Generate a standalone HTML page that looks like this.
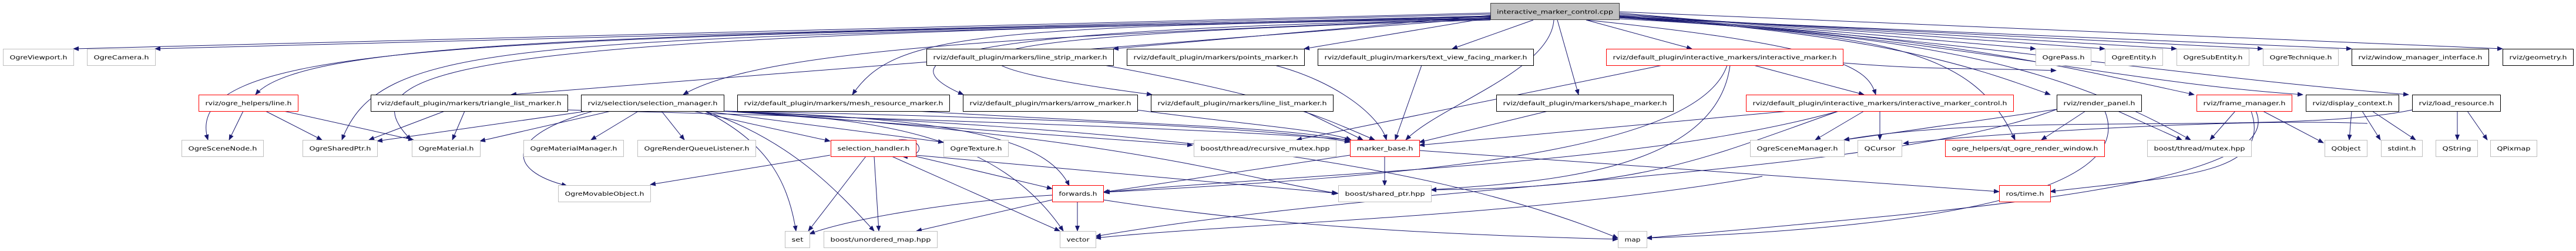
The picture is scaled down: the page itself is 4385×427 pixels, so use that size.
<!DOCTYPE html>
<html><head><meta charset="utf-8"><style>
html,body{margin:0;padding:0;background:#fff;}
svg{display:block;}
text{font-family:"DejaVu Sans","Liberation Sans",sans-serif;font-size:10px;fill:#000;}
.e{fill:none;stroke:#191970;stroke-width:1;marker-end:url(#a);}
.g{fill:#fff;stroke:#bfbfbf;}
.b{fill:#fff;stroke:#000;}
.r{fill:#fff;stroke:#ff0000;}
</style></head><body>
<svg width="4385" height="427" viewBox="0 0 4385 427" xmlns="http://www.w3.org/2000/svg">
<defs><marker id="a" markerWidth="10" markerHeight="8" refX="9" refY="4" orient="auto" markerUnits="userSpaceOnUse"><path d="M0,0 L10,4 L0,8 z" fill="#191970"/></marker></defs>
<g>
<!-- from top node to row1 -->
<path class="e" d="M2537 22 L125 83"/>
<path class="e" d="M2537 24 L264 83"/>
<path class="e" d="M2537 26 L1895 83"/>
<path class="e" d="M2537 30 L2220 83"/>
<path class="e" d="M2610 34 L2472 83"/>
<path class="e" d="M2700 34 L2880 83"/>
<path class="e" d="M2756 22 L3465 83"/>
<path class="e" d="M2756 24 L3583 83"/>
<path class="e" d="M2756 26 L3705 83"/>
<path class="e" d="M2756 28 L3852 83"/>
<path class="e" d="M2756 30 L4003 83"/>
<path class="e" d="M2756 20 L4260 83"/>
<!-- to row2 -->
<path class="e" d="M2537 28 C1200 60 520 60 435 161"/>
<path class="e" d="M2537 30 L870 161"/>
<path class="e" d="M2537 31 C1800 60 1300 80 1163 161"/>
<path class="e" d="M2537 32 C1650 45 1520 60 1451 161"/>
<path class="e" d="M2537 33 C1600 50 1500 100 1640 161"/>
<path class="e" d="M2537 34 C1600 60 1500 100 1961 161"/>
<path class="e" d="M2651 34 L2687 161"/>
<path class="e" d="M2700 34 C3150 80 3180 120 3193 161"/>
<path class="e" d="M2756 27 C3200 60 3350 110 3490 161"/>
<path class="e" d="M2756 28 C3300 60 3500 110 3735 161"/>
<path class="e" d="M2756 29 C3300 60 3600 140 3920 161"/>
<path class="e" d="M2756 30 C3300 60 3700 130 4100 161"/>
<!-- to row3 -->
<path class="e" d="M2537 27 C900 70 300 60 354 238"/>
<path class="e" d="M2537 29 C900 70 650 60 582 238"/>
<path class="e" d="M2537 31 C900 60 560 100 700 238"/>
<path class="e" d="M2645 34 C2640 120 2450 180 2393 238"/>
<path class="e" d="M2756 30 C3200 60 3360 80 3430 238"/>
<path class="e" d="M2756 32 C3300 60 3520 120 3729 238"/>
<!-- line.h -->
<path class="e" d="M414 189 L390 238"/>
<path class="e" d="M452 189 L548 238"/>
<path class="e" d="M483 189 L704 238"/>
<!-- triangle list -->
<path class="e" d="M757 189 L628 238"/>
<path class="e" d="M791 189 L770 238"/>
<path class="e" d="M966 187 C1500 200 2100 220 2298 238"/>
<!-- selection_manager -->
<path class="e" d="M1000 189 L642 240"/>
<path class="e" d="M1040 189 L817 240"/>
<path class="e" d="M1087 189 L1006 238"/>
<path class="e" d="M1126 189 L1165 238"/>
<path class="e" d="M1010 189 C860 230 860 290 965 316"/>
<path class="e" d="M1180 189 L1413 240"/>
<path class="e" d="M1200 189 L1606 242"/>
<path class="e" d="M1200 189 C1300 240 1340 300 1355 393"/>
<path class="e" d="M1200 189 C1350 240 1430 330 1488 393"/>
<path class="e" d="M1220 189 C1600 200 1780 230 1820 316"/>
<path class="e" d="M1220 189 C1500 200 1700 230 1810 393"/>
<path class="e" d="M1232 189 L2030 247"/>
<path class="e" d="M1232 189 C1800 200 2200 220 2298 242"/>
<path class="e" d="M1232 189 C1900 230 2100 300 2276 329"/>
<path class="e" d="M1232 189 C1900 220 2400 260 2754 405"/>
<!-- mesh resource, arrow, line_strip, points, line_list, text_view, shape -->
<path class="e" d="M1560 189 C1900 210 2200 215 2298 240"/>
<path class="e" d="M1935 187 C2100 210 2250 220 2300 238"/>
<path class="e" d="M1880 111 C2200 170 2250 200 2340 238"/>
<path class="e" d="M2170 111 C2280 140 2350 200 2360 238"/>
<path class="e" d="M2220 189 L2320 238"/>
<path class="e" d="M2420 111 L2375 238"/>
<path class="e" d="M2635 189 L2416 242"/>
<!-- interactive_marker.h -->
<path class="e" d="M2830 111 L2207 238"/>
<path class="e" d="M2985 111 L3173 161"/>
<path class="e" d="M2940 111 C2890 260 2400 300 1880 327"/>
<path class="e" d="M2945 111 C2920 300 2600 310 2436 323"/>
<path class="e" d="M3137 107 C3300 120 3350 115 3500 120"/>
<!-- interactive_marker_control.h -->
<path class="e" d="M3045 189 L2416 247"/>
<path class="e" d="M3173 189 L3090 238"/>
<path class="e" d="M3200 189 L3200 238"/>
<path class="e" d="M3130 189 C2800 280 2300 290 1878 327"/>
<path class="e" d="M3130 189 C2900 270 2800 320 2436 323"/>
<!-- render panel -->
<path class="e" d="M3501 186 L3139 238"/>
<path class="e" d="M3550 189 L3475 238"/>
<path class="e" d="M3605 189 L3714 238"/>
<path class="e" d="M3501 186 C3200 300 2400 310 1865 402"/>
<path class="e" d="M3583 189 C3620 280 3500 380 2803 405"/>
<!-- frame manager -->
<path class="e" d="M3805 189 L3762 238"/>
<path class="e" d="M3852 189 L3955 243"/>
<path class="e" d="M3832 189 C3870 300 3700 300 3490 326"/>
<path class="e" d="M3840 189 C3900 320 3300 360 2803 405"/>
<!-- display context, load resource -->
<path class="e" d="M4003 189 L3999 238"/>
<path class="e" d="M4021 189 L4052 238"/>
<path class="e" d="M4038 189 L4112 238"/>
<path class="e" d="M4183 189 L4183 238"/>
<path class="e" d="M4200 189 L4234 238"/>
<path class="e" d="M4106 187 C3900 230 3400 190 3139 238"/>
<path class="e" d="M4030 210 C3800 200 3350 230 3240 244"/>
<!-- marker_base -->
<path class="e" d="M2357 266 L2357 316"/>
<path class="e" d="M2298 264 L1878 327"/>
<path class="e" d="M2416 256 L3403 326"/>
<!-- selection_handler -->
<path class="e" d="M1530 238 C1575 235 1575 268 1536 266"/>
<path class="e" d="M1413 264 L1107 314"/>
<path class="e" d="M1474 266 L1376 393"/>
<path class="e" d="M1488 266 L1496 393"/>
<path class="e" d="M1518 266 L1804 393"/>
<path class="e" d="M1559 266 L1791 321"/>
<path class="e" d="M1559 264 L2278 329"/>
<!-- forwards -->
<path class="e" d="M1791 332 C1650 340 1450 370 1378 398"/>
<path class="e" d="M1791 340 L1560 393"/>
<path class="e" d="M1834 343 L1834 393"/>
<path class="e" d="M1878 340 C2200 390 2500 400 2754 407"/>
<path class="e" d="M3000 300 C2600 370 2100 380 1865 405"/>
</g>
<g>
<rect x="2537.5" y="5.5" width="219" height="28" fill="#bfbfbf" stroke="#404040"/>
<text x="2647" y="23.5" text-anchor="middle" textLength="198" lengthAdjust="spacingAndGlyphs">interactive_marker_control.cpp</text>

<rect class="g" x="5.5" y="83.5" width="120" height="28"/><text x="65.5" y="101" text-anchor="middle" textLength="98" lengthAdjust="spacingAndGlyphs">OgreViewport.h</text>
<rect class="g" x="148.5" y="83.5" width="116" height="28"/><text x="206.5" y="101" text-anchor="middle" textLength="94" lengthAdjust="spacingAndGlyphs">OgreCamera.h</text>
<rect class="b" x="1577.5" y="83.5" width="318" height="28"/><text x="1736.5" y="101" text-anchor="middle" textLength="296" lengthAdjust="spacingAndGlyphs">rviz/default_plugin/markers/line_strip_marker.h</text>
<rect class="b" x="1918.5" y="83.5" width="302" height="28"/><text x="2069.5" y="101" text-anchor="middle" textLength="280" lengthAdjust="spacingAndGlyphs">rviz/default_plugin/markers/points_marker.h</text>
<rect class="b" x="2243.5" y="83.5" width="367" height="28"/><text x="2427" y="101" text-anchor="middle" textLength="345" lengthAdjust="spacingAndGlyphs">rviz/default_plugin/markers/text_view_facing_marker.h</text>
<rect class="r" x="2734.5" y="83.5" width="403" height="28"/><text x="2936" y="101" text-anchor="middle" textLength="381" lengthAdjust="spacingAndGlyphs">rviz/default_plugin/interactive_markers/interactive_marker.h</text>
<rect class="g" x="3465.5" y="83.5" width="94" height="28"/><text x="3512.5" y="101" text-anchor="middle" textLength="72" lengthAdjust="spacingAndGlyphs">OgrePass.h</text>
<rect class="g" x="3583.5" y="83.5" width="98" height="28"/><text x="3632.5" y="101" text-anchor="middle" textLength="76" lengthAdjust="spacingAndGlyphs">OgreEntity.h</text>
<rect class="g" x="3705.5" y="83.5" width="123" height="28"/><text x="3767" y="101" text-anchor="middle" textLength="101" lengthAdjust="spacingAndGlyphs">OgreSubEntity.h</text>
<rect class="g" x="3852.5" y="83.5" width="128" height="28"/><text x="3916.5" y="101" text-anchor="middle" textLength="106" lengthAdjust="spacingAndGlyphs">OgreTechnique.h</text>
<rect class="b" x="4003.5" y="83.5" width="233" height="28"/><text x="4120" y="101" text-anchor="middle" textLength="211" lengthAdjust="spacingAndGlyphs">rviz/window_manager_interface.h</text>
<rect class="b" x="4260.5" y="83.5" width="120" height="28"/><text x="4320.5" y="101" text-anchor="middle" textLength="98" lengthAdjust="spacingAndGlyphs">rviz/geometry.h</text>

<rect class="r" x="338.5" y="161.5" width="169" height="28"/><text x="423" y="179" text-anchor="middle" textLength="147" lengthAdjust="spacingAndGlyphs">rviz/ogre_helpers/line.h</text>
<rect class="b" x="631.5" y="161.5" width="335" height="28"/><text x="799" y="179" text-anchor="middle" textLength="313" lengthAdjust="spacingAndGlyphs">rviz/default_plugin/markers/triangle_list_marker.h</text>
<rect class="b" x="989.5" y="161.5" width="243" height="28"/><text x="1111" y="179" text-anchor="middle" textLength="221" lengthAdjust="spacingAndGlyphs">rviz/selection/selection_manager.h</text>
<rect class="b" x="1255.5" y="161.5" width="361" height="28"/><text x="1436" y="179" text-anchor="middle" textLength="339" lengthAdjust="spacingAndGlyphs">rviz/default_plugin/markers/mesh_resource_marker.h</text>
<rect class="b" x="1639.5" y="161.5" width="297" height="28"/><text x="1788" y="179" text-anchor="middle" textLength="275" lengthAdjust="spacingAndGlyphs">rviz/default_plugin/markers/arrow_marker.h</text>
<rect class="b" x="1959.5" y="161.5" width="310" height="28"/><text x="2114.5" y="179" text-anchor="middle" textLength="288" lengthAdjust="spacingAndGlyphs">rviz/default_plugin/markers/line_list_marker.h</text>
<rect class="b" x="2547.5" y="161.5" width="301" height="28"/><text x="2698" y="179" text-anchor="middle" textLength="279" lengthAdjust="spacingAndGlyphs">rviz/default_plugin/markers/shape_marker.h</text>
<rect class="r" x="2972.5" y="161.5" width="455" height="28"/><text x="3200" y="179" text-anchor="middle" textLength="433" lengthAdjust="spacingAndGlyphs">rviz/default_plugin/interactive_markers/interactive_marker_control.h</text>
<rect class="b" x="3501.5" y="161.5" width="144" height="28"/><text x="3573.5" y="179" text-anchor="middle" textLength="122" lengthAdjust="spacingAndGlyphs">rviz/render_panel.h</text>
<rect class="r" x="3739.5" y="161.5" width="162" height="28"/><text x="3820.5" y="179" text-anchor="middle" textLength="140" lengthAdjust="spacingAndGlyphs">rviz/frame_manager.h</text>
<rect class="b" x="3925.5" y="161.5" width="158" height="28"/><text x="4004.5" y="179" text-anchor="middle" textLength="136" lengthAdjust="spacingAndGlyphs">rviz/display_context.h</text>
<rect class="b" x="4106.5" y="161.5" width="150" height="28"/><text x="4181.5" y="179" text-anchor="middle" textLength="128" lengthAdjust="spacingAndGlyphs">rviz/load_resource.h</text>

<rect class="g" x="309.5" y="238.5" width="139" height="28"/><text x="379" y="256" text-anchor="middle" textLength="117" lengthAdjust="spacingAndGlyphs">OgreSceneNode.h</text>
<rect class="g" x="515.5" y="238.5" width="127" height="28"/><text x="579" y="256" text-anchor="middle" textLength="105" lengthAdjust="spacingAndGlyphs">OgreSharedPtr.h</text>
<rect class="g" x="701.5" y="238.5" width="116" height="28"/><text x="759.5" y="256" text-anchor="middle" textLength="94" lengthAdjust="spacingAndGlyphs">OgreMaterial.h</text>
<rect class="g" x="891.5" y="238.5" width="170" height="28"/><text x="976.5" y="256" text-anchor="middle" textLength="148" lengthAdjust="spacingAndGlyphs">OgreMaterialManager.h</text>
<rect class="g" x="1085.5" y="238.5" width="201" height="28"/><text x="1186" y="256" text-anchor="middle" textLength="179" lengthAdjust="spacingAndGlyphs">OgreRenderQueueListener.h</text>
<rect class="r" x="1414.5" y="238.5" width="145" height="28"/><text x="1487" y="256" text-anchor="middle" textLength="123" lengthAdjust="spacingAndGlyphs">selection_handler.h</text>
<rect class="g" x="1606.5" y="238.5" width="110" height="28"/><text x="1661.5" y="256" text-anchor="middle" textLength="88" lengthAdjust="spacingAndGlyphs">OgreTexture.h</text>
<rect class="g" x="2032.5" y="238.5" width="242" height="28"/><text x="2153.5" y="256" text-anchor="middle" textLength="220" lengthAdjust="spacingAndGlyphs">boost/thread/recursive_mutex.hpp</text>
<rect class="r" x="2298.5" y="238.5" width="118" height="28"/><text x="2357.5" y="256" text-anchor="middle" textLength="96" lengthAdjust="spacingAndGlyphs">marker_base.h</text>
<rect class="g" x="2979.5" y="238.5" width="160" height="28"/><text x="3059.5" y="256" text-anchor="middle" textLength="138" lengthAdjust="spacingAndGlyphs">OgreSceneManager.h</text>
<rect class="g" x="3162.5" y="238.5" width="75" height="28"/><text x="3200" y="256" text-anchor="middle" textLength="53" lengthAdjust="spacingAndGlyphs">QCursor</text>
<rect class="r" x="3311.5" y="238.5" width="271" height="28"/><text x="3447" y="256" text-anchor="middle" textLength="249" lengthAdjust="spacingAndGlyphs">ogre_helpers/qt_ogre_render_window.h</text>
<rect class="g" x="3655.5" y="238.5" width="177" height="28"/><text x="3744" y="256" text-anchor="middle" textLength="155" lengthAdjust="spacingAndGlyphs">boost/thread/mutex.hpp</text>
<rect class="g" x="3957.5" y="238.5" width="72" height="28"/><text x="3993.5" y="256" text-anchor="middle" textLength="50" lengthAdjust="spacingAndGlyphs">QObject</text>
<rect class="g" x="4053.5" y="238.5" width="70" height="28"/><text x="4088.5" y="256" text-anchor="middle" textLength="48" lengthAdjust="spacingAndGlyphs">stdint.h</text>
<rect class="g" x="4146.5" y="238.5" width="71" height="28"/><text x="4182" y="256" text-anchor="middle" textLength="49" lengthAdjust="spacingAndGlyphs">QString</text>
<rect class="g" x="4239.5" y="238.5" width="79" height="28"/><text x="4279" y="256" text-anchor="middle" textLength="57" lengthAdjust="spacingAndGlyphs">QPixmap</text>

<rect class="g" x="950.5" y="315.5" width="157" height="28"/><text x="1029" y="333" text-anchor="middle" textLength="135" lengthAdjust="spacingAndGlyphs">OgreMovableObject.h</text>
<rect class="r" x="1791.5" y="315.5" width="87" height="28"/><text x="1835" y="333" text-anchor="middle" textLength="65" lengthAdjust="spacingAndGlyphs">forwards.h</text>
<rect class="g" x="2278.5" y="315.5" width="158" height="28"/><text x="2357.5" y="333" text-anchor="middle" textLength="136" lengthAdjust="spacingAndGlyphs">boost/shared_ptr.hpp</text>
<rect class="r" x="3403.5" y="315.5" width="87" height="28"/><text x="3447" y="333" text-anchor="middle" textLength="65" lengthAdjust="spacingAndGlyphs">ros/time.h</text>

<rect class="g" x="1336.5" y="393.5" width="42" height="28"/><text x="1357.5" y="411" text-anchor="middle" textLength="20" lengthAdjust="spacingAndGlyphs">set</text>
<rect class="g" x="1402.5" y="393.5" width="193" height="28"/><text x="1499" y="411" text-anchor="middle" textLength="171" lengthAdjust="spacingAndGlyphs">boost/unordered_map.hpp</text>
<rect class="g" x="1804.5" y="393.5" width="61" height="28"/><text x="1835" y="411" text-anchor="middle" textLength="39" lengthAdjust="spacingAndGlyphs">vector</text>
<rect class="g" x="2754.5" y="393.5" width="49" height="28"/><text x="2779" y="411" text-anchor="middle" textLength="27" lengthAdjust="spacingAndGlyphs">map</text>
</g>
</svg>
</body></html>
